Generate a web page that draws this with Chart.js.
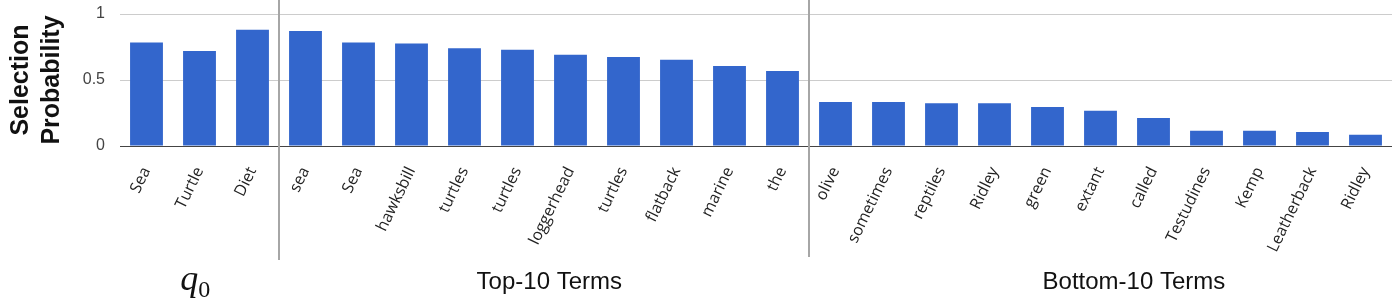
<!DOCTYPE html>
<html>
<head>
<meta charset="utf-8">
<script src="https://cdn.jsdelivr.net/npm/chart.js@4.4.1/dist/chart.umd.min.js"></script>
<style>
  html, body { margin: 0; padding: 0; background: #ffffff; }
  #wrap { width: 1399px; height: 307px; position: relative; }
</style>
</head>
<body>
<div id="wrap"><canvas id="c" width="1399" height="307"></canvas></div>
<script>
// ---- Data ----
const categories = [
  'Sea', 'Turtle', 'Diet',
  'sea', 'Sea', 'hawksbill', 'turtles', 'turtles', 'loggerhead', 'turtles', 'flatback', 'marine', 'the',
  'olive', 'sometimes', 'reptiles', 'Ridley', 'green', 'extant', 'called', 'Testudines', 'Kemp', 'Leatherback', 'Ridley'
];
const probabilities = [
  0.785, 0.72, 0.88,
  0.871, 0.785, 0.777, 0.74, 0.73, 0.692, 0.674, 0.654, 0.606, 0.568,
  0.333, 0.333, 0.323, 0.323, 0.295, 0.267, 0.212, 0.116, 0.116, 0.106, 0.086
];
const groupNames = ['q0', 'Top-10 Terms', 'Bottom-10 Terms'];
const groupSizes = [3, 10, 11];
const yTickValues = [0, 0.5, 1];
const yTickLabels = ['0', '0.5', '1'];
const yAxisTitle = ['Selection', 'Probability'];

// ---- Styling / layout helpers (not data) ----
const groupLabelPos = [0.92, 7.6, 18.63];   // category-index positions for group captions
const separatorBottoms = [260, 257];

const groupPlugin = {
  id: 'groups',
  afterDatasetsDraw(chart) {
    const { ctx, chartArea, scales } = chart;
    const y = scales.y;
    ctx.save();
    const y0 = Math.round(y.getPixelForValue(0)) + 0.5;
    ctx.strokeStyle = '#444444';
    ctx.lineWidth = 1.2;
    ctx.beginPath();
    ctx.moveTo(chartArea.left, y0);
    ctx.lineTo(chartArea.right, y0);
    ctx.stroke();
    ctx.restore();
  },
  afterDraw(chart) {
    const { ctx, scales } = chart;
    const x = scales.x;
    ctx.save();
    let idx = 0;
    ctx.strokeStyle = '#a6a6a6';
    ctx.lineWidth = 2;
    for (let g = 0; g < groupSizes.length - 1; g++) {
      idx += groupSizes[g];
      const px = x.getPixelForValue(idx - 0.5);
      ctx.beginPath();
      ctx.moveTo(px, 0);
      ctx.lineTo(px, separatorBottoms[g]);
      ctx.stroke();
    }
    ctx.fillStyle = '#111111';
    ctx.textBaseline = 'alphabetic';
    const qx = x.getPixelForValue(groupLabelPos[0]);
    ctx.font = 'italic 36px "Liberation Serif", serif';
    const qName = groupNames[0].charAt(0);
    const sub = groupNames[0].slice(1);
    const qw = ctx.measureText(qName).width;
    ctx.font = '24px "Liberation Serif", serif';
    const sw = ctx.measureText(sub).width;
    const startX = qx - (qw + sw) / 2;
    ctx.font = 'italic 36px "Liberation Serif", serif';
    ctx.textAlign = 'left';
    ctx.fillText(qName, startX, 290);
    ctx.font = '24px "Liberation Serif", serif';
    ctx.fillText(sub, startX + qw, 297);
    ctx.font = '24px "Liberation Sans", Arial, sans-serif';
    ctx.textAlign = 'center';
    for (let g = 1; g < groupNames.length; g++) {
      ctx.fillText(groupNames[g], x.getPixelForValue(groupLabelPos[g]), 289);
    }
    ctx.restore();
  }
};

new Chart(document.getElementById('c'), {
  type: 'bar',
  data: {
    labels: categories,
    datasets: [{
      data: probabilities,
      backgroundColor: '#3366cc',
      borderWidth: 0,
      barPercentage: 0.62,
      categoryPercentage: 1.0
    }]
  },
  options: {
    responsive: false,
    animation: false,
    devicePixelRatio: 1,
    layout: { padding: { left: 0, right: 7, top: 14, bottom: 0 } },
    plugins: { legend: { display: false }, tooltip: { enabled: false } },
    scales: {
      x: {
        offset: true,
        grid: { display: false },
        border: { display: false },
        ticks: {
          autoSkip: false,
          minRotation: 64,
          maxRotation: 64,
          padding: 10,
          color: '#222222',
          font: { family: '"Open Sans", sans-serif', size: 16 }
        },
        afterFit(scale) { scale.height = 161; scale.paddingLeft = 0; scale.paddingRight = 0; }
      },
      y: {
        min: 0,
        max: 1,
        afterBuildTicks(scale) { scale.ticks = yTickValues.map(v => ({ value: v })); },
        grid: {
          drawTicks: false,
          color: (c) => (c.tick && c.tick.value === 0) ? 'rgba(0,0,0,0)' : '#cccccc',
          lineWidth: 1
        },
        border: { display: false },
        ticks: {
          padding: 15,
          color: '#444444',
          font: { family: '"Liberation Sans", Arial, sans-serif', size: 16 },
          callback: (v) => {
            const i = yTickValues.indexOf(v);
            return i >= 0 ? yTickLabels[i] : '';
          }
        },
        title: {
          display: true,
          text: yAxisTitle,
          color: '#111111',
          font: { family: '"Liberation Sans", Arial, sans-serif', size: 25, weight: 'bold', lineHeight: 1.22 },
          padding: { top: 6, bottom: 0 }
        },
        afterFit(scale) { scale.width = 120; scale.paddingTop = 0; scale.paddingBottom = 0; }
      }
    }
  },
  plugins: [groupPlugin]
});
</script>
</body>
</html>
